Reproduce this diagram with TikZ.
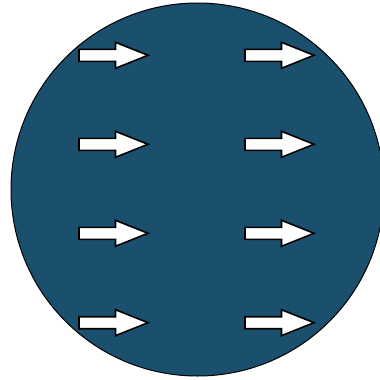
\documentclass[tikz,border=0pt]{standalone}
\usetikzlibrary{shadows}
\definecolor{discblue}{HTML}{1A4F6D}
\tikzset{
  disc/.style={draw=black, line width=1pt, fill=discblue},
  flowarrow/.pic={
    \draw[line width=1.6pt, fill=white, line join=miter, drop shadow={shadow xshift=0.8pt, shadow yshift=-0.8pt, opacity=0.4}]
      (0,-6) -- (36.5,-6) -- (36.5,-13) -- (69,0) -- (36.5,13) -- (36.5,6) -- (0,6) -- cycle;
  }
}
\begin{document}
\begin{tikzpicture}[x=1pt,y=-1pt]
\useasboundingbox (0,0) rectangle (380,380);
\node[disc, circle, minimum size=373pt, inner sep=0pt] (ball) at (197.5,189.5) {};
\foreach \r/\yy in {1/55.3,2/144.3,3/233.3,4/322.7}{
  \pic (la\r) at (79,\yy) {flowarrow};
  \pic (ra\r) at (245,\yy) {flowarrow};
}
\end{tikzpicture}
\end{document}
